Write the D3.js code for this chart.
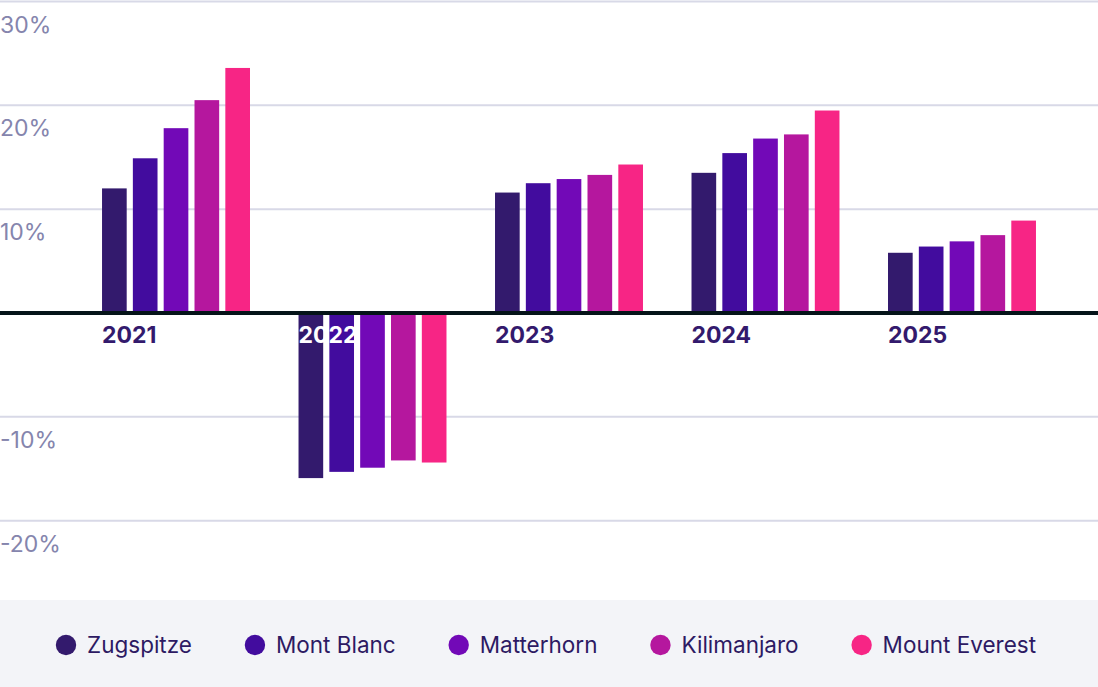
<!DOCTYPE html>
<html>
<head>
<meta charset="utf-8">
<script src="https://cdn.jsdelivr.net/npm/d3@7"></script>
<style>
  body { margin: 0; background: #fff; }
  svg { display: block; font-family: Inter, "Noto Sans", sans-serif; }
</style>
</head>
<body>
<svg id="chart" width="1098" height="687"></svg>
<script>
const years = ["2021", "2022", "2023", "2024", "2025"];
const peaks = ["Zugspitze", "Mont Blanc", "Matterhorn", "Kilimanjaro", "Mount Everest"];
const colors = ["#331A6D", "#420C9E", "#7209B7", "#B5179E", "#F72585"];

// one array per peak, values in % per year
const zugspitze = [12.0, -15.9, 11.6, 13.5, 5.8];
const montBlanc = [14.9, -15.3, 12.5, 15.4, 6.4];
const matterhorn = [17.8, -14.9, 12.9, 16.8, 6.9];
const kilimanjaro = [20.5, -14.2, 13.3, 17.2, 7.5];
const everest = [23.6, -14.4, 14.3, 19.5, 8.9];

const tickValues = [30, 20, 10, -10, -20];

const series = [zugspitze, montBlanc, matterhorn, kilimanjaro, everest];

const svg = d3.select("#chart");
const W = 1098;

var y = d3.scaleLinear().domain([-30, 30]).range([624.5, 1.5]);
var x0 = d3.scaleBand().domain(years).range([53.5, 1084.5]).paddingInner(0.247).paddingOuter(0.247);
var x1 = d3.scaleBand().domain(peaks).range([0, x0.bandwidth()]).paddingInner(0.2);
var color = d3.scaleOrdinal().domain(peaks).range(colors);

// grid lines + labels
const grid = svg.append("g");
grid.selectAll("line")
  .data(tickValues)
  .join("line")
  .attr("x1", 0).attr("x2", W)
  .attr("y1", d => y(d)).attr("y2", d => y(d))
  .attr("stroke", "#d8d9e7")
  .attr("stroke-width", 2);

grid.selectAll("text")
  .data(tickValues)
  .join("text")
  .attr("x", 0)
  .attr("y", d => y(d) + 31)
  .attr("fill", "#8585ad")
  .attr("font-size", 23)
  .text(d => String(d) + "%");

// bars
const rows = [];
years.forEach((yr, i) => {
  peaks.forEach((p, j) => rows.push({ year: yr, peak: p, value: series[j][i] }));
});

svg.append("g")
  .selectAll("rect")
  .data(rows)
  .join("rect")
  .attr("x", d => x0(d.year) + x1(d.peak))
  .attr("width", x1.bandwidth())
  .attr("y", d => y(Math.max(0, d.value)))
  .attr("height", d => Math.abs(y(d.value) - y(0)))
  .attr("fill", d => color(d.peak));

// zero line
svg.append("line")
  .attr("x1", 0).attr("x2", W)
  .attr("y1", y(0)).attr("y2", y(0))
  .attr("stroke", "#051419")
  .attr("stroke-width", 4);

// year labels
svg.append("g")
  .selectAll("text")
  .data(years)
  .join("text")
  .attr("x", d => x0(d))
  .attr("y", y(0) + 30)
  .attr("font-size", 23)
  .attr("font-weight", 700)
  .attr("fill", (d, i) => zugspitze[i] < 0 ? "#fff" : "#331A6D")
  .text(d => d);

// legend
svg.append("rect")
  .attr("x", 0).attr("y", 600)
  .attr("width", W).attr("height", 87)
  .attr("fill", "#f3f4f8");

const legend = svg.append("g");
let lx = 56;
peaks.forEach((p, i) => {
  const g = legend.append("g");
  g.append("circle")
    .attr("cx", lx + 10).attr("cy", 645)
    .attr("r", 10.2)
    .attr("fill", colors[i]);
  const t = g.append("text")
    .attr("x", lx + 31).attr("y", 653)
    .attr("font-size", 22.5)
    .attr("fill", "#2d1a63")
    .text(p);
  lx += 31 + t.node().getComputedTextLength() + 53;
});
</script>
</body>
</html>
